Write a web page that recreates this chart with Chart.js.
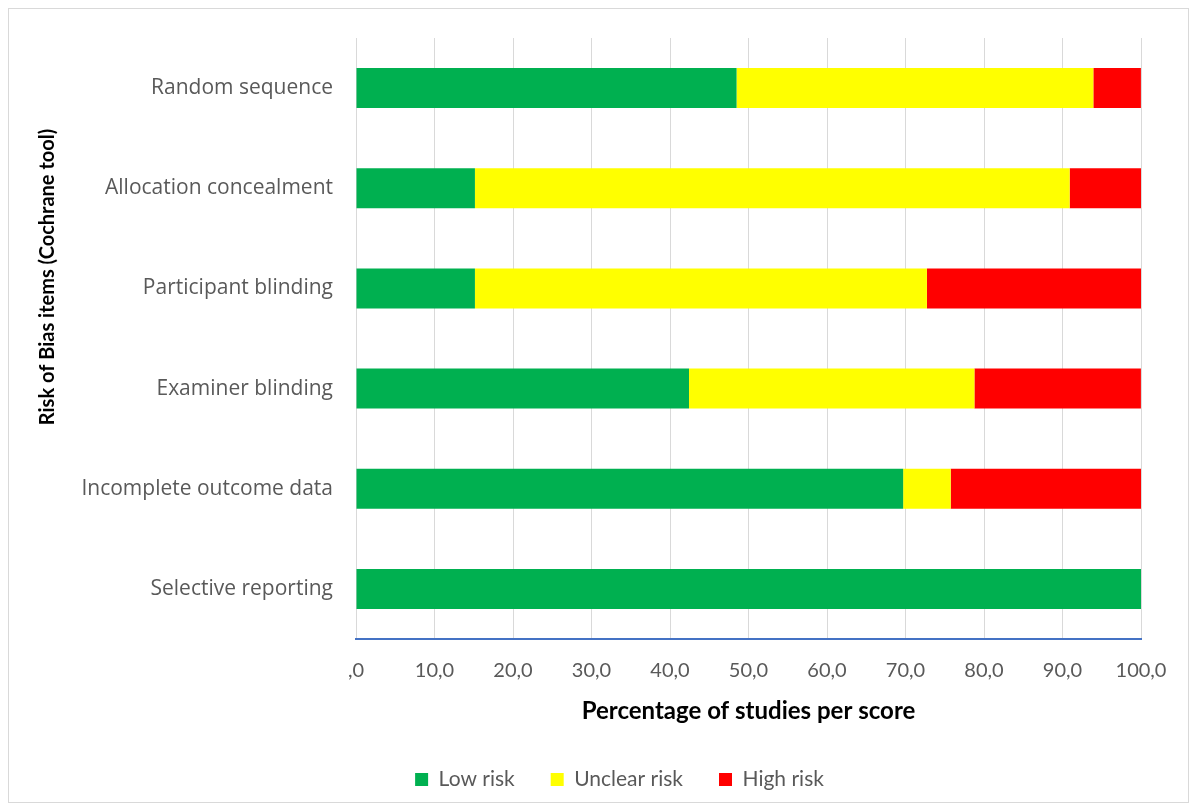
<!DOCTYPE html>
<html>
<head>
<meta charset="utf-8">
<title>Risk of Bias</title>
<script src="https://cdn.jsdelivr.net/npm/chart.js@4.4.0/dist/chart.umd.min.js"></script>
<style>
  html, body { margin: 0; padding: 0; background: #fff; }
  #wrap { position: relative; width: 1196px; height: 810px; }
  #frame { position: absolute; left: 8px; top: 8px; width: 1179px; height: 793px; border: 1px solid #d9d9d9; pointer-events: none; }
</style>
</head>
<body>
<div id="wrap">
  <canvas id="bias" width="1196" height="810"></canvas>
  <div id="frame"></div>
</div>
<script>
// Risk of Bias items, % of the 33 studies per score
var items = ['Random sequence', 'Allocation concealment', 'Participant blinding',
             'Examiner blinding', 'Incomplete outcome data', 'Selective reporting'];
var lowRisk     = [48.48, 15.15, 15.15, 42.42, 69.70, 100];
var unclearRisk = [45.45, 75.76, 57.58, 36.36,  6.06, 0];
var highRisk    = [ 6.06,  9.09, 27.27, 21.21, 24.24, 0];
var seriesNames = ['Low risk', 'Unclear risk', 'High risk'];
var xTitle = 'Percentage of studies per score';
var yTitle = 'Risk of Bias items (Cochrane tool)';

// axis titles drawn by hand so they sit where Excel puts them
var axisTitles = {
  id: 'axisTitles',
  afterDraw: function(chart) {
    var ctx = chart.ctx;
    var area = chart.chartArea;
    ctx.save();
    ctx.fillStyle = '#000';
    ctx.textAlign = 'center';
    ctx.textBaseline = 'middle';
    ctx.font = 'bold 24px Lato';
    ctx.fillText(xTitle, (area.left + area.right) / 2, 711);
    ctx.font = 'bold 20px Lato';
    ctx.translate(48, 277);
    ctx.rotate(-Math.PI / 2);
    ctx.fillText(yTitle, 0, 0);
    ctx.restore();
  }
};

// legend is centred on the whole page, not on the padded box
var legendShift = {
  id: 'legendShift',
  afterLayout: function(chart) {
    chart.legend.left += 49;
    chart.legend.right += 49;
  }
};

var ctx = document.getElementById('bias').getContext('2d');
var biasChart = new Chart(ctx, {
  type: 'bar',
  data: {
    labels: items,
    datasets: [
      { label: seriesNames[0], data: lowRisk, backgroundColor: '#00b050' },
      { label: seriesNames[1], data: unclearRisk, backgroundColor: '#ffff00' },
      { label: seriesNames[2], data: highRisk, backgroundColor: '#ff0000' }
    ]
  },
  options: {
    indexAxis: 'y',
    responsive: false,
    animation: false,
    devicePixelRatio: 1,
    datasets: {
      bar: { barPercentage: 0.4, categoryPercentage: 1.0, borderWidth: 0 }
    },
    layout: {
      padding: { top: 38, right: 55, bottom: 10, left: 0 }
    },
    plugins: {
      legend: {
        position: 'bottom',
        labels: {
          boxWidth: 13,
          boxHeight: 13,
          padding: 36,
          color: '#595959',
          font: { family: 'Lato', size: 21 }
        }
      },
      tooltip: { enabled: false }
    },
    scales: {
      x: {
        stacked: true,
        min: 0,
        max: 100,
        ticks: {
          stepSize: 10,
          padding: 20,
          color: '#595959',
          font: { family: 'Lato', size: 20 },
          callback: function(value) {
            return value === 0 ? ',0' : value.toFixed(1).replace('.', ',');
          }
        },
        grid: { color: '#d9d9d9', lineWidth: 1, drawTicks: false },
        border: { display: true, color: '#4472c4', width: 2 },
        afterFit: function(scale) { scale.height = 94; }
      },
      y: {
        stacked: true,
        ticks: {
          padding: 23,
          color: '#595959',
          font: { family: 'Open Sans', size: 21 }
        },
        grid: { display: false, drawTicks: false },
        border: { display: false },
        afterFit: function(scale) { scale.width = 356; }
      }
    }
  },
  plugins: [axisTitles, legendShift]
});
</script>
</body>
</html>
